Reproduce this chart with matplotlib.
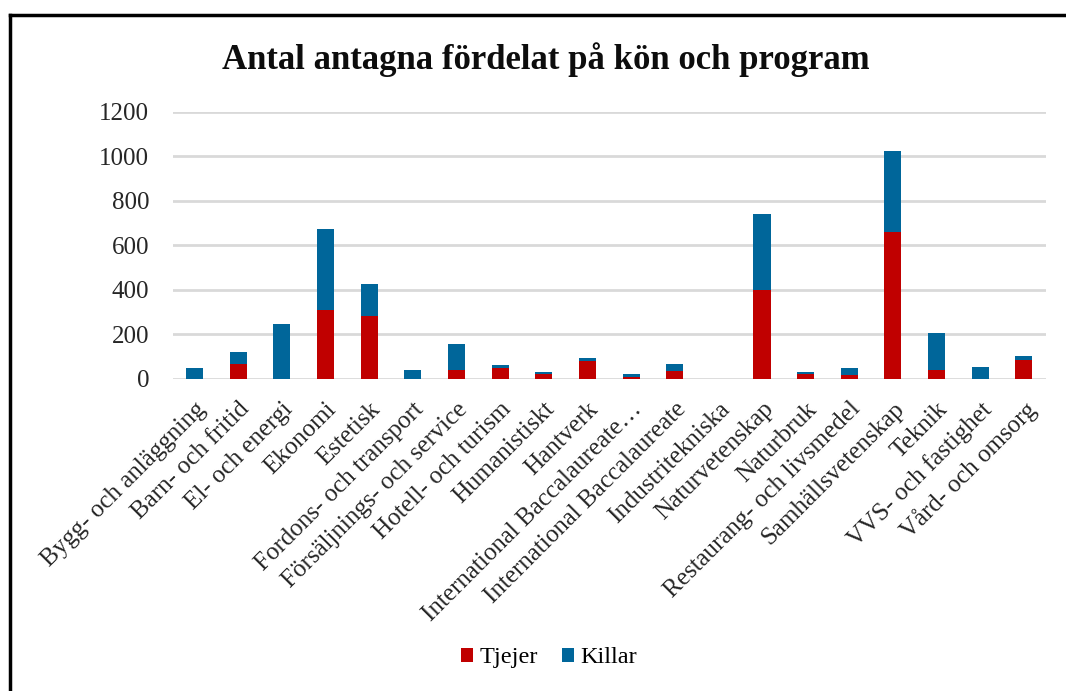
import matplotlib

matplotlib.use("Agg")
import matplotlib.pyplot as plt
from matplotlib.lines import Line2D
import numpy as np

PROGRAMS = [
    "Bygg- och anläggning", "Barn- och fritid", "El- och energi", "Ekonomi",
    "Estetisk", "Fordons- och transport", "Försäljnings- och service",
    "Hotell- och turism", "Humanistiskt", "Hantverk",
    "International Baccalaureate…", "International Baccalaureate",
    "Industritekniska", "Naturvetenskap", "Naturbruk",
    "Restaurang- och livsmedel", "Samhällsvetenskap", "Teknik",
    "VVS- och fastighet", "Vård- och omsorg",
]
TJEJER = [0, 66, 0, 311, 284, 0, 41, 47, 23, 80, 9, 35, 0, 401, 23, 15, 658, 41, 0, 86]
KILLAR = [47, 53, 248, 361, 143, 41, 117, 13, 6, 12, 14, 33, 0, 340, 6, 32, 366, 166, 54, 18]
YTICKS = [0, 200, 400, 600, 800, 1000, 1200]

RED = "#C00000"
BLUE = "#00669A"
GRID = "#D9D9D9"
FONT = "Liberation Serif"

plt.rcParams["font.family"] = FONT

fig = plt.figure(figsize=(10.66, 6.91), dpi=100)
ax = fig.add_axes([0.162, 0.452, 0.819, 0.386])

x = np.arange(len(PROGRAMS))
w = 0.39
ax.bar(x, TJEJER, w, color=RED, label="Tjejer", zorder=3)
ax.bar(x, KILLAR, w, bottom=TJEJER, color=BLUE, label="Killar", zorder=3)

ax.set_xlim(-0.5, len(PROGRAMS) - 0.5)
ax.set_ylim(0, 1200)
ax.set_yticks(YTICKS)
ax.set_yticklabels([str(v) for v in YTICKS], fontsize=18, color="#262626")
ax.yaxis.grid(True, color=GRID, linewidth=2, zorder=0)
ax.tick_params(axis="y", length=0, pad=17)
ax.tick_params(axis="x", length=0, pad=14)
ax.set_xticks(x)
ax.set_xticklabels(PROGRAMS, rotation=45, ha="right", rotation_mode="anchor",
                   fontsize=18, color="#262626")
for s in ("top", "right", "left", "bottom"):
    ax.spines[s].set_visible(False)

fig.text(0.512, 0.914, "Antal antagna fördelat på kön och program",
         ha="center", va="center", fontsize=25, fontweight="bold", color="#0D0D0D")

fig.legend(loc="center", bbox_to_anchor=(0.515, 0.048), ncols=2, frameon=False,
           fontsize=17.5, handlelength=0.5, handleheight=0.5, handletextpad=0.25,
           columnspacing=1.0)

# frame lines (left + top) of the embedded chart
fig.add_artist(Line2D([10 / 1066, 10 / 1066], [0, 1 - 15 / 691], color="black",
                      linewidth=2.5, transform=fig.transFigure))
fig.add_artist(Line2D([10 / 1066, 1], [1 - 15 / 691, 1 - 15 / 691], color="black",
                      linewidth=2.5, transform=fig.transFigure))

fig.savefig("out.png", dpi=100)
